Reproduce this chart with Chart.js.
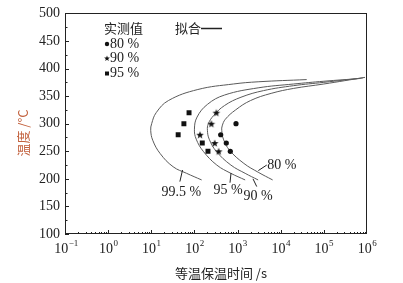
<!DOCTYPE html>
<html>
<head>
<meta charset="utf-8">
<script src="https://cdn.jsdelivr.net/npm/chart.js@4.4.0/dist/chart.umd.min.js"></script>
<style>
  html, body { margin: 0; padding: 0; background: #fff; }
  #wrap { width: 403px; height: 283px; }
</style>
</head>
<body>
<div id="wrap"><canvas id="myChart" width="403" height="283"></canvas></div>
<script>
// ---------------- data (time in s, temperature in °C) ----------------
// measured points
const circleTimes = [920, 406, 548, 679];
const circleTemps = [300, 280, 265, 250];
const starTimes = [135, 247, 322, 295, 365];
const starTemps = [280, 300, 320, 265, 250];
const squareTimes = [42, 57, 75, 152, 206];
const squareTemps = [280, 300, 320, 265, 250];

// fitted C-curves
const curve995Times = [40000, 3000, 800, 120, 25, 13, 10.2, 9.7, 10.8, 16, 32, 66, 147];
const curve995Temps = [380, 376, 372, 362, 342, 320, 300, 288, 270, 246, 222, 210, 198];
const curve95Times = [700000, 100000, 20000, 3000, 500, 200, 115, 100, 110, 160, 330, 700, 1500];
const curve95Temps = [382, 377, 372, 365, 352, 335, 312, 290, 272, 250, 225, 210, 198];
const curve90Times = [800000, 100000, 20000, 4000, 1200, 500, 280, 210, 200, 220, 320, 700, 1500, 3000];
const curve90Temps = [383, 375, 369, 360, 348, 333, 315, 300, 288, 272, 250, 225, 210, 198];
const curve80Times = [900000, 100000, 20000, 6000, 2000, 900, 520, 440, 430, 470, 650, 1400, 3000, 6500];
const curve80Temps = [384, 372, 364, 355, 342, 325, 308, 296, 288, 272, 252, 228, 212, 198];

// axis ticks
const xTickExps = [-1, 0, 1, 2, 3, 4, 5, 6];
const yTicks = [100, 150, 200, 250, 300, 350, 400, 450, 500];

const SERIF = "'Liberation Serif', 'Times New Roman', 'Noto Sans CJK SC', serif";
const CJK = "'Noto Sans CJK SC', 'Liberation Serif', sans-serif";
const INK = "#222";

function toPoints(xs, ys) {
  return xs.map((x, i) => ({ x: x, y: ys[i] }));
}

// filled five-point star used as a point style
function starPath(ctx, cx, cy, r) {
  ctx.beginPath();
  for (let i = 0; i < 10; i++) {
    const rr = i % 2 === 0 ? r : r * 0.42;
    const a = -Math.PI / 2 + i * Math.PI / 5;
    const px = cx + rr * Math.cos(a), py = cy + rr * Math.sin(a);
    if (i === 0) ctx.moveTo(px, py); else ctx.lineTo(px, py);
  }
  ctx.closePath();
}
function starCanvas(r) {
  const c = document.createElement("canvas");
  c.width = c.height = Math.ceil(r * 2 + 2);
  const g = c.getContext("2d");
  g.fillStyle = "#111";
  starPath(g, c.width / 2, c.height / 2 + 0.4, r);
  g.fill();
  return c;
}
const starImg = starCanvas(4);

const curveStyle = {
  type: "line",
  borderColor: "#5a5a5a",
  borderWidth: 1,
  pointRadius: 0,
  tension: 0.4,
  fill: false,
  order: 2,
};

// labels for the fitted curves: text position and leader line, in data units
const curveNotes = [
  { text: "99.5 %", at: [50, 175], from: [53, 216], to: [46, 195] },
  { text: "95 %", at: [600, 179], from: [705, 210.6], to: [668, 193] },
  { text: "90 %", at: [2980, 168], from: [2280, 200], to: [2780, 186] },
  { text: "80 %", at: [10550, 225], from: [3030, 215], to: [4740, 225] },
];

// frame, inward ticks, x tick labels, titles, legend, curve labels
const decorPlugin = {
  id: "decor",
  afterDraw(chart) {
    const ctx = chart.ctx;
    const a = chart.chartArea;
    const xs = chart.scales.x, ys = chart.scales.y;
    ctx.save();
    ctx.strokeStyle = INK;
    ctx.lineWidth = 1;
    ctx.strokeRect(Math.round(a.left) + 0.5, Math.round(a.top) + 0.5,
      Math.round(a.right - a.left) - 1, Math.round(a.bottom - a.top) - 1);

    // inward ticks on the x axis (log minors)
    ctx.beginPath();
    for (let e = -1; e < 6; e++) {
      for (let m = 1; m <= 9; m++) {
        const v = m * Math.pow(10, e);
        const px = Math.round(xs.getPixelForValue(v)) + 0.5;
        const len = m === 1 ? 4 : 2;
        ctx.moveTo(px, a.bottom);
        ctx.lineTo(px, a.bottom - len);
      }
    }
    // inward ticks on the y axis
    for (let t = 100; t <= 500; t += 25) {
      const py = Math.round(ys.getPixelForValue(t)) + 0.5;
      const len = t % 50 === 0 ? 4 : 2.5;
      ctx.moveTo(a.left, py);
      ctx.lineTo(a.left + len, py);
    }
    ctx.stroke();

    // x tick labels as 10 with a raised exponent
    ctx.fillStyle = INK;
    ctx.textBaseline = "alphabetic";
    xs.ticks.forEach((t) => {
      const e = String(Math.round(Math.log10(t.value)));
      const cx = xs.getPixelForValue(t.value);
      ctx.font = "14px " + SERIF;
      const wb = ctx.measureText("10").width;
      ctx.font = "9px " + SERIF;
      const we = ctx.measureText(e).width;
      const x0 = cx - (wb + we) / 2;
      ctx.textAlign = "left";
      ctx.font = "14px " + SERIF;
      ctx.fillText("10", x0, 253);
      ctx.font = "9px " + SERIF;
      ctx.fillText(e.replace("-", "\u2212"), x0 + wb + 0.5, 246);
    });

    // axis titles
    ctx.font = "13px " + CJK;
    ctx.textAlign = "center";
    ctx.textBaseline = "middle";
    ctx.fillText("等温保温时间 /s", 221, 273);
    ctx.save();
    ctx.translate(23, 133);
    ctx.rotate(-Math.PI / 2);
    ctx.fillStyle = "#c2603c";
    ctx.fillText("温度 /°C", 0, 0);
    ctx.restore();

    // legend
    ctx.fillStyle = INK;
    ctx.textAlign = "left";
    ctx.font = "13px " + CJK;
    ctx.fillText("实测值", 104, 28);
    ctx.fillText("拟合", 175, 28);
    ctx.beginPath();
    ctx.lineWidth = 1.5;
    ctx.moveTo(201, 28.5);
    ctx.lineTo(222, 28.5);
    ctx.stroke();
    ctx.fillStyle = "#111";
    ctx.beginPath();
    ctx.arc(107, 44, 2.2, 0, Math.PI * 2);
    ctx.fill();
    starPath(ctx, 107, 58.5, 3);
    ctx.fill();
    ctx.fillRect(105, 71.5, 4, 4);
    ctx.fillStyle = INK;
    ctx.font = "14px " + SERIF;
    ctx.fillText("80 %", 110, 44);
    ctx.fillText("90 %", 110, 58);
    ctx.fillText("95 %", 110, 73);

    // curve labels with leader lines
    ctx.lineWidth = 1;
    ctx.strokeStyle = INK;
    ctx.textAlign = "center";
    curveNotes.forEach((n) => {
      ctx.beginPath();
      ctx.moveTo(xs.getPixelForValue(n.from[0]), ys.getPixelForValue(n.from[1]));
      ctx.lineTo(xs.getPixelForValue(n.to[0]), ys.getPixelForValue(n.to[1]));
      ctx.stroke();
      ctx.fillText(n.text, xs.getPixelForValue(n.at[0]), ys.getPixelForValue(n.at[1]));
    });
    ctx.restore();
  },
};

function powerLabel(v) {
  return "10^" + Math.round(Math.log10(v));
}

const ctx = document.getElementById("myChart");
const myChart = new Chart(ctx, {
  data: {
    datasets: [
      { type: "scatter", data: toPoints(circleTimes, circleTemps), pointStyle: "circle",
        pointRadius: 2.6, backgroundColor: "#111", borderWidth: 0, order: 1 },
      { type: "scatter", data: toPoints(starTimes, starTemps), pointStyle: starImg,
        backgroundColor: "#111", order: 1 },
      { type: "scatter", data: toPoints(squareTimes, squareTemps), pointStyle: "rect",
        pointRadius: 3.5, backgroundColor: "#111", borderWidth: 0, order: 1 },
      Object.assign({ data: toPoints(curve995Times, curve995Temps) }, curveStyle),
      Object.assign({ data: toPoints(curve95Times, curve95Temps) }, curveStyle),
      Object.assign({ data: toPoints(curve90Times, curve90Temps) }, curveStyle),
      Object.assign({ data: toPoints(curve80Times, curve80Temps) }, curveStyle),
    ],
  },
  options: {
    responsive: false,
    animation: false,
    devicePixelRatio: 1,
    layout: { padding: { top: 13, right: 36, left: 0, bottom: 0 } },
    plugins: { legend: { display: false }, tooltip: { enabled: false } },
    scales: {
      x: {
        type: "logarithmic",
        position: "bottom",
        min: 0.1,
        max: 1e6,
        grid: { display: false, drawTicks: false },
        border: { display: false },
        afterBuildTicks: (scale) => {
          scale.ticks = xTickExps.map((e) => ({ value: Math.pow(10, e) }));
        },
        afterFit: (scale) => { scale.height = 49; },
        ticks: {
          autoSkip: false,
          maxRotation: 0,
          padding: 6,
          color: "rgba(0,0,0,0)", // labels are drawn with raised exponents in the plugin
          font: { family: SERIF, size: 13 },
          callback: (v) => powerLabel(v),
        },
      },
      y: {
        type: "linear",
        min: 100,
        max: 500,
        grid: { display: false, drawTicks: false },
        border: { display: false },
        afterBuildTicks: (scale) => {
          scale.ticks = yTicks.map((v) => ({ value: v }));
        },
        afterFit: (scale) => { scale.width = 65; },
        ticks: {
          padding: 5,
          color: INK,
          font: { family: SERIF, size: 14 },
        },
      },
    },
  },
  plugins: [decorPlugin],
});
</script>
</body>
</html>
